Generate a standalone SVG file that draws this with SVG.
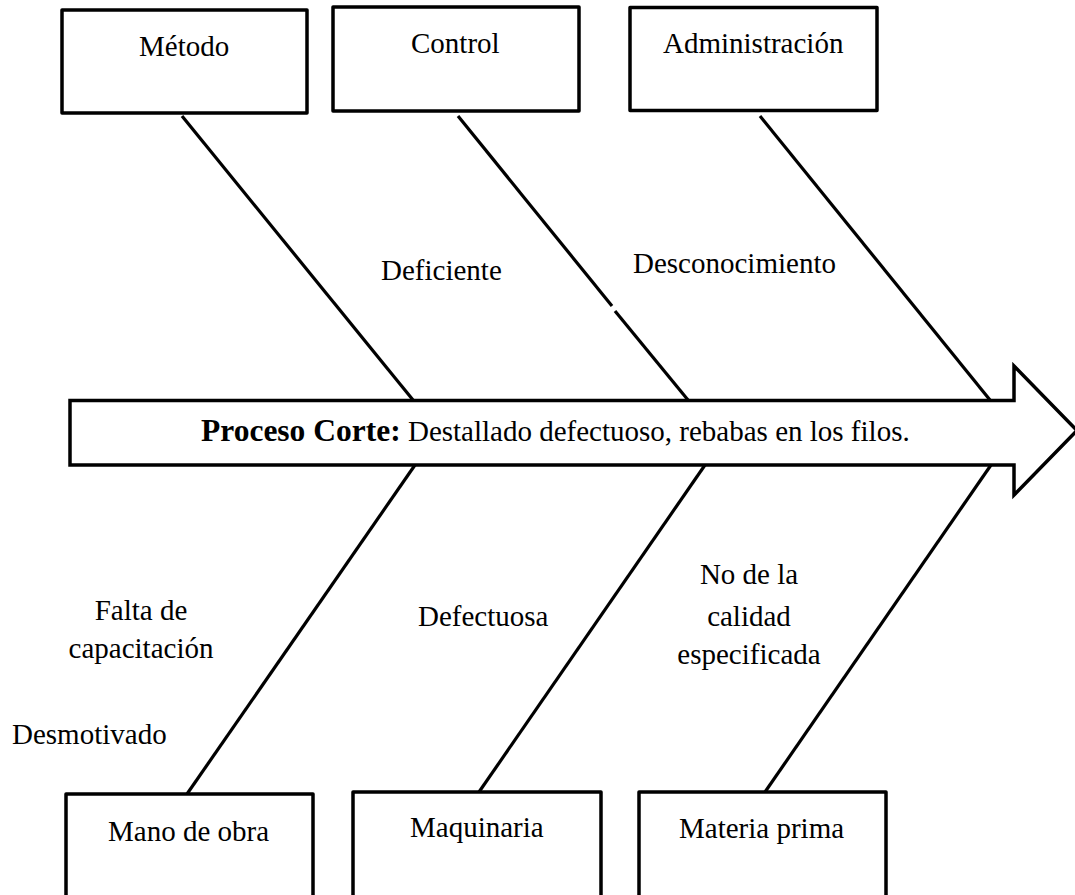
<svg xmlns="http://www.w3.org/2000/svg" width="1075" height="895" viewBox="0 0 1075 895">
  <style>
    text { font-family: "Liberation Serif", "Times New Roman", serif; font-size: 29px; fill: #000; }
    .box { fill: #fff; stroke: #000; stroke-width: 3.5; stroke-linejoin: round; }
    .bone { stroke: #000; stroke-width: 3.2; fill: none; }
    .spine { fill: #fff; stroke: #000; stroke-width: 3.5; stroke-linejoin: miter; }
    .b { font-weight: bold; font-size: 31.5px; }
  </style>
  <rect width="1075" height="895" fill="#fff"/>

  <!-- fish bones -->
  <g id="connectors">
    <line class="bone" x1="182" y1="116" x2="413" y2="400"/>
    <line class="bone" x1="458" y1="116" x2="612" y2="306"/>
    <line class="bone" x1="615" y1="311" x2="688" y2="400"/>
    <line class="bone" x1="760" y1="116" x2="990" y2="400"/>
    <line class="bone" x1="415" y1="465" x2="187" y2="794"/>
    <line class="bone" x1="705" y1="465" x2="479" y2="792"/>
    <line class="bone" x1="991" y1="465" x2="765" y2="792"/>
  </g>

  <!-- main spine arrow with effect -->
  <g id="spine">
    <polygon class="spine" points="70,400.5 1014,400.5 1014,366 1077,430.5 1014,495 1014,465 70,465"/>
    <text x="201" y="441"><tspan class="b">Proceso Corte:</tspan> Destallado defectuoso, rebabas en los filos.</text>
  </g>

  <!-- cause categories, top -->
  <g id="metodo">
    <rect class="box" x="62" y="10" width="245" height="103"/>
    <text x="139" y="56">Método</text>
  </g>
  <g id="control">
    <rect class="box" x="333" y="7" width="246" height="104"/>
    <text x="411" y="53">Control</text>
  </g>
  <g id="administracion">
    <rect class="box" x="630" y="7.5" width="247" height="103"/>
    <text x="663" y="53">Administración</text>
  </g>

  <!-- cause categories, bottom -->
  <g id="mano-de-obra">
    <rect class="box" x="66" y="794" width="247" height="120"/>
    <text x="108" y="841">Mano de obra</text>
  </g>
  <g id="maquinaria">
    <rect class="box" x="353" y="792" width="248" height="120"/>
    <text x="410" y="837">Maquinaria</text>
  </g>
  <g id="materia-prima">
    <rect class="box" x="639" y="792" width="247" height="120"/>
    <text x="679" y="838">Materia prima</text>
  </g>

  <!-- sub-causes -->
  <g id="sub-causes">
    <text x="381" y="280">Deficiente</text>
    <text x="633" y="273">Desconocimiento</text>
    <text x="141" y="620" text-anchor="middle">Falta de</text>
    <text x="141" y="658" text-anchor="middle">capacitación</text>
    <text x="12" y="744">Desmotivado</text>
    <text x="418" y="626">Defectuosa</text>
    <text x="749" y="584" text-anchor="middle">No de la</text>
    <text x="749" y="626" text-anchor="middle">calidad</text>
    <text x="749" y="664" text-anchor="middle">especificada</text>
  </g>
</svg>
